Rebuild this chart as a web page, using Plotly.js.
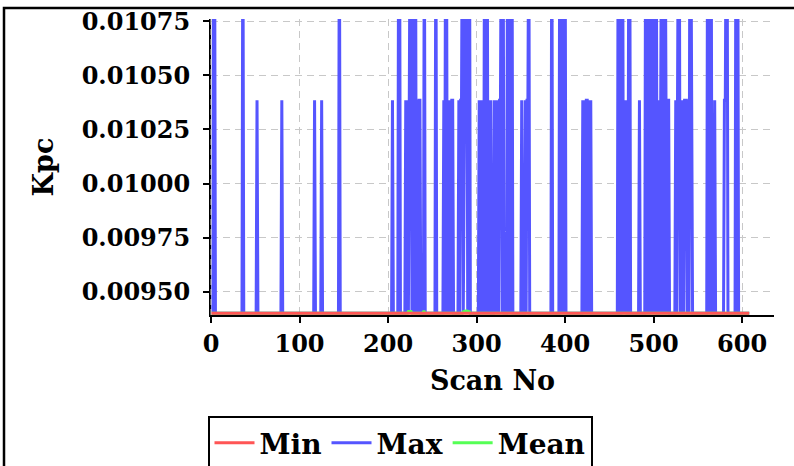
<!DOCTYPE html>
<html><head><meta charset="utf-8">
<script src="https://cdn.plot.ly/plotly-3.0.1.min.js"></script>
<style>html,body{margin:0;padding:0;background:#fff;overflow:hidden}#chart{width:794px;height:466px}</style>
</head><body><div id="chart"></div>
<script>
// ---- data ----
const scanCount = 609;               // scans 0..608
const minLevel = 0.0094;             // Min series (flat)
const MID = 0.010385;                // Max mid level
const TOP = 0.01137;                 // Max upper level (clipped by axis)
const maxSpikeScan = [3,4,36,52,80,117,125,145,205,212,213,
  220,222,224,225,226,228,230,231,233,235,236,241,254,
  263,265,266,268,270,272,273,280,282,283,284,286,287,288,289,291,292,
  303,305,307,309,311,312,314,316,320,322,324,326,327,328,330,335,337,339,340,
  351,355,357,358,359,385,394,396,398,400,420,422,424,425,427,429,
  460,464,465,467,469,472,473,484,491,493,495,496,498,500,502,503,
  506,508,509,511,513,514,516,517,525,527,528,529,531,533,535,536,537,539,541,542,543,
  561,563,565,569,580,581,582,583,593,595];
const maxSpikeValue = [TOP,TOP,TOP,MID,MID,MID,MID,TOP,MID,TOP,TOP,
  MID,MID,MID,TOP,TOP,MID,TOP,TOP,MID,MID,MID,TOP,TOP,
  MID,TOP,TOP,MID,MID,MID,MID,MID,MID,MID,TOP,TOP,TOP,TOP,TOP,TOP,TOP,
  MID,MID,MID,TOP,TOP,TOP,MID,MID,MID,MID,MID,MID,MID,TOP,TOP,TOP,TOP,TOP,TOP,
  MID,MID,MID,MID,TOP,TOP,TOP,TOP,TOP,TOP,MID,MID,MID,MID,MID,MID,
  TOP,TOP,TOP,MID,MID,TOP,TOP,MID,TOP,TOP,TOP,TOP,TOP,TOP,TOP,TOP,
  MID,MID,TOP,MID,TOP,MID,MID,MID,MID,MID,TOP,TOP,MID,MID,MID,MID,MID,MID,TOP,TOP,MID,
  TOP,TOP,TOP,MID,MID,MID,TOP,TOP,TOP,TOP];
const meanBumpScan  = [223,224,225,226,240,241,285,286,287,288,289,290,291,292];
const meanBumpValue = [0.009408,0.009409,0.009409,0.009408,0.009407,0.009407,
  0.009407,0.009409,0.00941,0.00941,0.00941,0.00941,0.009409,0.009407];
const xTickVals = [0,100,200,300,400,500,600];
const yTickVals = [0.0095,0.00975,0.01,0.01025,0.0105,0.01075];

// ---- build full series ----
const scanNo = [], minSeries = [], maxSeries = [], meanSeries = [];
for (let i = 0; i < scanCount; i++) {
  scanNo.push(i); minSeries.push(minLevel); maxSeries.push(minLevel); meanSeries.push(minLevel);
}
maxSpikeScan.forEach((s, k) => { maxSeries[s] = maxSpikeValue[k]; });
meanBumpScan.forEach((s, k) => { meanSeries[s] = meanBumpValue[k]; });

const F = 'DejaVu Serif';
const traces = [
  {x: scanNo, y: maxSeries, name: 'Max', mode: 'lines', legendrank: 2,
   line: {color: 'rgb(85,85,255)', width: 3}},
  {x: scanNo, y: meanSeries, name: 'Mean', mode: 'lines', legendrank: 3,
   line: {color: 'rgb(85,255,85)', width: 3}},
  {x: scanNo, y: minSeries, name: 'Min', mode: 'lines', legendrank: 1,
   line: {color: 'rgb(255,85,85)', width: 3}}
];
const L = 211, R = 20, T = 19, B = 151, W = 794, H = 466;
const pw = W - L - R, ph = H - T - B;
const layout = {
  width: W, height: H, paper_bgcolor: '#fff', plot_bgcolor: '#fff',
  margin: {l: L, r: R, t: T, b: B, pad: 0},
  font: {family: F, weight: 'bold', color: '#000', size: 24},
  showlegend: true,
  xaxis: {range: [0, 636], tickvals: xTickVals, ticktext: xTickVals.map(String),
    showgrid: true, gridcolor: '#c8c8c8', griddash: '7px,5px', gridwidth: 1,
    zeroline: false, showline: true, linecolor: '#000', linewidth: 2,
    ticks: 'outside', ticklen: 6, tickwidth: 2, tickcolor: '#000',
    tickfont: {family: F, weight: 'bold', size: 24},
    title: {text: 'Scan No', font: {family: F, weight: 'bold', size: 27}, standoff: 14},
    automargin: false},
  yaxis: {range: [0.009392, 0.010761], tickvals: yTickVals, tickformat: '.5f',
    showgrid: true, gridcolor: '#c8c8c8', griddash: '7px,5px', gridwidth: 1,
    zeroline: false, showline: true, linecolor: '#000', linewidth: 2,
    ticks: 'outside', ticklen: 6, tickwidth: 2, tickcolor: '#000', ticklabelstandoff: 8,
    tickfont: {family: F, weight: 'bold', size: 24},
    title: {text: 'Kpc', font: {family: F, weight: 'bold', size: 27}, standoff: 20},
    automargin: false},
  legend: {orientation: 'h', xref: 'container', yref: 'container',
    x: 400 / W, xanchor: 'center', y: 1 - 416 / H, yanchor: 'top',
    bordercolor: '#000', borderwidth: 2, bgcolor: '#fff', itemwidth: 40,
    font: {family: F, weight: 'bold', size: 28}},
  shapes: [
    {type: 'rect', xref: 'paper', yref: 'paper',
     x0: (4 - L) / pw, x1: (W + 50 - L) / pw, y0: (T + ph - (H + 50)) / ph, y1: (T + ph - 8) / ph,
     line: {color: '#000', width: 2.5}, fillcolor: 'rgba(0,0,0,0)', layer: 'above'},
    {type: 'line', xref: 'paper', yref: 'paper', x0: 0, x1: 0, y0: 0, y1: 1,
     line: {color: '#d0d0d0', width: 1, dash: '6px,4px'}, layer: 'above'}
  ]
};
Plotly.newPlot('chart', traces, layout, {displayModeBar: false, staticPlot: true});
</script></body></html>
